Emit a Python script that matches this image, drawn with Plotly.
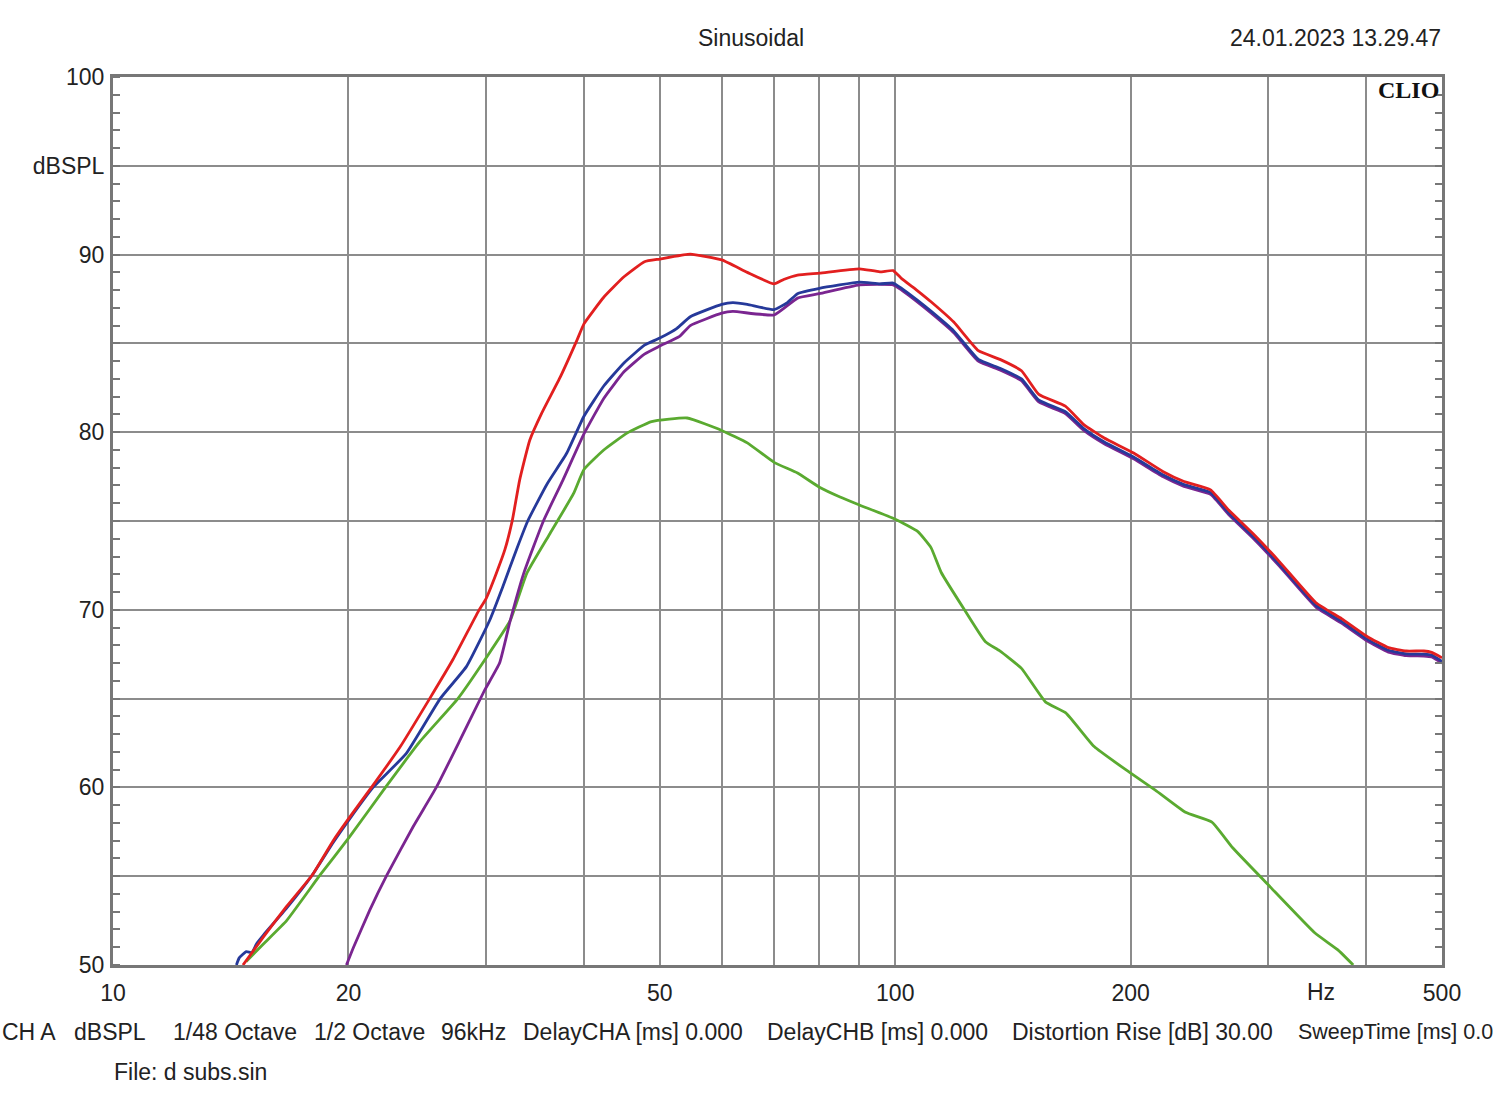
import plotly.graph_objects as go
import math

# ---------------- data ----------------
red_f = [14.66, 15.58, 16.67, 17.98, 19.12, 20.05, 21.4, 23.3, 25.4, 27.2, 29.3, 30.0,
         30.9, 31.7, 32.4, 33.1, 34.1, 35.3, 37.3, 39.2, 40.0, 42.4, 45.0, 47.8, 50.0,
         54.7, 60.0, 64.7, 70.0, 72.0, 75.0, 80.0, 90.0, 95.6, 99.4, 101.9, 106.6, 111.2,
         118.8, 127.7, 136.1, 145, 152.6, 165, 174.2, 185, 201.7, 219.8, 234, 253, 267,
         288, 310, 345, 372, 401, 427, 450, 474, 485, 500]
red_db = [50.0, 51.6, 53.3, 55.07, 57.0, 58.3, 60.0, 62.3, 65.0, 67.2, 69.9, 70.65,
          72.05, 73.4, 75.05, 77.3, 79.55, 81.05, 83.1, 85.2, 86.1, 87.6, 88.75, 89.6, 89.75,
          90.03, 89.7, 89.0, 88.35, 88.6, 88.85, 88.96, 89.2, 89.03, 89.1, 88.65, 87.99, 87.33,
          86.2, 84.59, 84.1, 83.46, 82.13, 81.47, 80.43, 79.67, 78.83, 77.79, 77.22, 76.75, 75.6,
          74.2, 72.7, 70.4, 69.5, 68.5, 67.87, 67.68, 67.68, 67.6, 67.3]

blue_f = [14.38, 14.5, 14.8, 15.05, 15.26, 15.58, 16.67, 17.98, 19.12, 20.05, 21.5, 23.7,
          26.2, 28.3, 30.3, 31.5, 32.8, 33.9, 35.9, 38.0, 40.0, 42.4, 45.0, 47.8, 50.0,
          52.6, 54.7, 60.0, 62.0, 64.7, 70.0, 72.8, 75.0, 80.0, 90.0, 95.6, 99.4, 101.9,
          106.6, 111.2, 118.8, 127.7, 136.1, 145, 152.6, 165, 174.2, 185, 201.7, 219.8,
          234, 253, 267, 288, 310, 345, 372, 401, 427, 450, 474, 485, 500]
blue_db = [50.0, 50.4, 50.75, 50.7, 51.2, 51.7, 53.2, 55.07, 56.9, 58.2, 60.0, 61.9,
           65.0, 66.8, 69.4, 71.3, 73.4, 75.0, 77.1, 78.8, 80.9, 82.6, 83.9, 84.9, 85.3,
           85.85, 86.5, 87.2, 87.3, 87.2, 86.9, 87.3, 87.8, 88.1, 88.45, 88.35, 88.4, 88.1,
           87.45, 86.8, 85.7, 84.1, 83.6, 83.0, 81.8, 81.15, 80.2, 79.45, 78.6, 77.6,
           77.05, 76.6, 75.45, 74.05, 72.55, 70.25, 69.35, 68.35, 67.72, 67.52, 67.5, 67.45, 67.1]

purple_f = [19.88, 20.3, 21.3, 22.4, 24.2, 25.9, 27.8, 29.8, 31.2, 32.2, 33.5, 35.5, 37.6,
            40.0, 42.4, 45.0, 47.8, 50.0, 53.0, 54.7, 60.0, 62.0, 70.0, 75.0, 80.0, 90.0,
            99.4, 101.9, 106.6, 111.2, 118.8, 127.7, 136.1, 145, 152.6, 165, 174.2, 185,
            201.7, 219.8, 234, 253, 267, 288, 310, 345, 372, 401, 427, 450, 474, 485, 500]
purple_db = [50.0, 51.0, 53.1, 55.07, 57.8, 60.0, 62.7, 65.4, 67.0, 69.4, 72.05, 75.0, 77.3,
             79.9, 81.9, 83.4, 84.4, 84.85, 85.4, 86.0, 86.7, 86.8, 86.6, 87.55, 87.8, 88.3,
             88.3, 88.0, 87.35, 86.7, 85.6, 84.0, 83.5, 82.9, 81.7, 81.05, 80.1, 79.35,
             78.5, 77.5, 76.95, 76.5, 75.35, 73.95, 72.45, 70.15, 69.25, 68.25, 67.62, 67.42,
             67.4, 67.35, 67.0]

green_f = [14.8, 15.58, 16.67, 18.4, 20.05, 22.3, 24.7, 27.6, 30.0, 32.2, 33.8, 36.2, 38.8,
           40.0, 42.4, 45.4, 48.8, 54.2, 60.0, 64.7, 70.0, 75.0, 80.0, 85.0, 90.0, 100.0,
           106.9, 111.1, 114.5, 122.6, 130.4, 135.9, 145.0, 155.7, 165.2, 179.6, 200.0,
           215, 235, 254, 270, 300, 344, 368, 385]
green_db = [50.2, 51.2, 52.5, 55.07, 57.2, 60.0, 62.6, 65.0, 67.3, 69.4, 72.05, 74.3, 76.55,
            77.9, 79.0, 79.95, 80.6, 80.8, 80.1, 79.4, 78.3, 77.7, 76.9, 76.35, 75.9, 75.1,
            74.4, 73.5, 72.1, 70.0, 68.2, 67.7, 66.7, 64.8, 64.2, 62.3, 60.8,
            59.85, 58.6, 58.05, 56.6, 54.5, 51.8, 50.85, 50.0]

x_grid = [10, 20, 30, 40, 50, 60, 70, 80, 90, 100, 200, 300, 400, 500]
x_labels = ["10", "20", "", "", "50", "", "", "", "", "100", "200", "", "", "500"]
y_grid = [50, 55, 60, 65, 70, 75, 80, 85, 90, 95, 100]
y_labels = ["50", "", "60", "", "70", "", "80", "", "90", "dBSPL", "100"]

footer_items = ["CH A", "dBSPL", "1/48 Octave", "1/2 Octave", "96kHz",
                "DelayCHA [ms] 0.000", "DelayCHB [ms] 0.000",
                "Distortion Rise [dB] 30.00", "SweepTime [ms] 0.0"]
footer_px = [1, 73, 172, 313, 440, 522, 766, 1011, 1297]
footer_fs = [23, 23, 23, 23, 23, 23, 23, 23, 21.5]

# ---------------- figure ----------------
FONT = "Liberation Sans, Arial, sans-serif"
FS = 23
GRID = "#8c8c8c"
W, H = 1500, 1110
L, R, T, B = 113, 58, 77, 145
PW = W - L - R
PH = H - T - B


def px_x(px):
    return (px - L) / PW


def px_y(py):
    return (H - B - py) / PH


fig = go.Figure()
series = [
    (green_f, green_db, "#5aaa30"),
    (purple_f, purple_db, "#7a2590"),
    (blue_f, blue_db, "#26399a"),
    (red_f, red_db, "#e21f1f"),
]
for f, db, c in series:
    fig.add_trace(go.Scatter(x=f, y=db, mode="lines",
                             line=dict(color=c, width=2.8, shape="spline", smoothing=0.4),
                             showlegend=False, hoverinfo="skip"))

minor_ticks = dict(ticks="inside", ticklen=7, tickwidth=1.5, tickcolor="#777",
                   tickmode="linear", tick0=50, dtick=1, showgrid=False)

fig.update_layout(
    width=W, height=H,
    margin=dict(l=L, r=R, t=T, b=B, pad=0),
    paper_bgcolor="white", plot_bgcolor="white",
    font=dict(family=FONT, size=FS, color="#222"),
    hovermode=False,
    xaxis=dict(type="log", range=[1, math.log10(500)],
               tickmode="array", tickvals=x_grid, ticktext=x_labels,
               showgrid=True, gridcolor=GRID, gridwidth=1.6,
               showline=True, linecolor="#777", linewidth=3, mirror=True,
               ticks="", zeroline=False, ticklabelstandoff=5,
               tickfont=dict(family=FONT, size=FS, color="#222")),
    yaxis=dict(range=[50, 100], tickmode="array", tickvals=y_grid, ticktext=y_labels,
               showgrid=True, gridcolor=GRID, gridwidth=1.6,
               showline=True, linecolor="#777", linewidth=3, mirror=True,
               ticks="", zeroline=False, ticklabelstandoff=1,
               tickfont=dict(family=FONT, size=FS, color="#222"),
               minor=minor_ticks),
    yaxis2=dict(range=[50, 100], overlaying="y", side="right", anchor="x",
                showgrid=False, showticklabels=False, ticks="", zeroline=False,
                showline=False, minor=minor_ticks),
)
# invisible trace so the right-hand axis (ticks only) is drawn
fig.add_trace(go.Scatter(x=[10], y=[50], yaxis="y2", mode="markers",
                         marker=dict(opacity=0), showlegend=False, hoverinfo="skip"))

ann = []
ann.append(dict(text="Sinusoidal", x=px_x(751), y=px_y(38),
                xref="paper", yref="paper", xanchor="center", yanchor="middle",
                showarrow=False, font=dict(family=FONT, size=FS, color="#222")))
ann.append(dict(text="24.01.2023 13.29.47", x=px_x(1443), y=px_y(38),
                xref="paper", yref="paper", xanchor="right", yanchor="middle",
                showarrow=False, font=dict(family=FONT, size=FS, color="#222")))
ann.append(dict(text="<b>CLIO</b>", x=px_x(1441), y=px_y(90),
                xref="paper", yref="paper", xanchor="right", yanchor="middle",
                showarrow=False, font=dict(family="Liberation Serif, DejaVu Serif, serif",
                                           size=24, color="#111")))
ann.append(dict(text="Hz", x=math.log10(350), y=px_y(992),
                xref="x", yref="paper", xanchor="center", yanchor="middle",
                showarrow=False, font=dict(family=FONT, size=FS, color="#222")))
for txt, px, fs in zip(footer_items, footer_px, footer_fs):
    ann.append(dict(text=txt, x=px_x(px), y=px_y(1032),
                    xref="paper", yref="paper", xanchor="left", yanchor="middle",
                    showarrow=False, borderpad=0,
                    font=dict(family=FONT, size=fs, color="#222")))
ann.append(dict(text="File: d subs.sin", x=px_x(113), y=px_y(1072),
                xref="paper", yref="paper", xanchor="left", yanchor="middle",
                showarrow=False, borderpad=0,
                font=dict(family=FONT, size=FS, color="#222")))
fig.update_layout(annotations=ann)

fig.write_html("out.html", config={"displayModeBar": False},
               post_script="document.body.style.margin='0';document.body.style.overflow='hidden';")
